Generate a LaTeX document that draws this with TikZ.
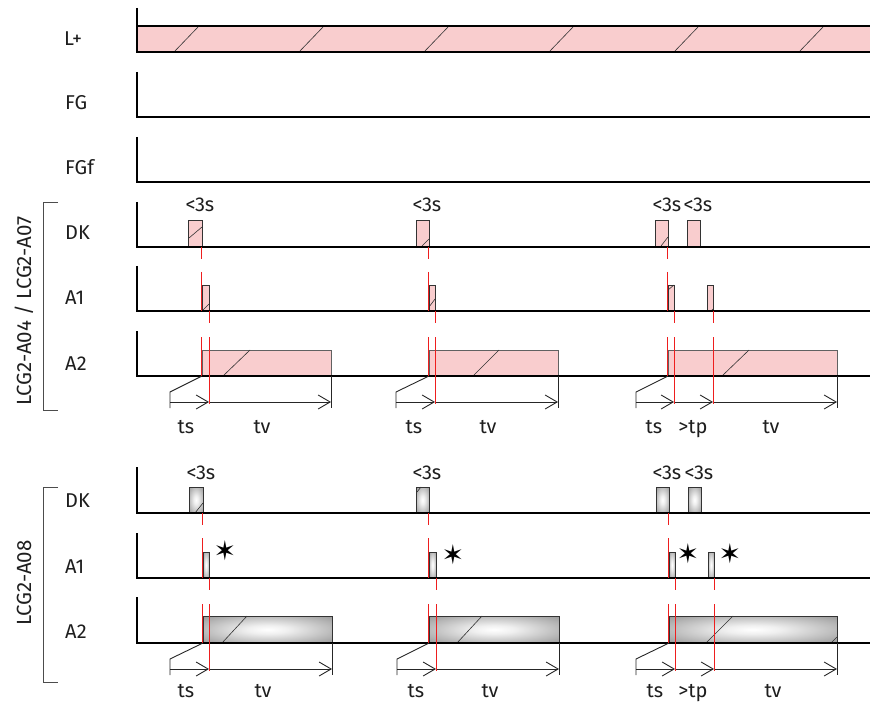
\documentclass[tikz,border=0pt]{standalone}
\usepackage{fontspec}
\setmainfont{Fira Sans}
\newfontfamily\symfont{DejaVu Sans}
\usetikzlibrary{arrows.meta}
\definecolor{pinkfill}{RGB}{249,205,206}
\definecolor{redline}{RGB}{238,30,30}
\definecolor{txt}{RGB}{30,30,30}
\pgfdeclareradialshading{glow}{\pgfpoint{0bp}{0bp}}{color(0bp)=(white); color(8bp)=(black!6); color(50bp)=(black!58); color(75bp)=(black!64)}
\tikzset{
  axis/.style={line width=1.1pt, black},
  lbl/.style={font=\fontsize{20}{22}\selectfont, text=txt, inner sep=0pt},
  rlbl/.style={font=\fontsize{20.5}{22}\selectfont, text=txt, inner sep=0pt, rotate=90},
  pulsedraw/.style={draw=black!80, line width=0.9pt},
  bardraw/.style={draw=black!62, line width=0.9pt},
  hatch/.style={black!80, line width=0.6pt},
  redd/.style={redline, line width=1pt},
  dim/.style={black!85, line width=0.9pt},
  dimarrow/.style={dim, -{Straight Barb[length=12pt,width=14pt]}},
  bracket/.style={black!70, line width=1pt},
  starlbl/.style={font=\symfont\fontsize{27}{28}\selectfont, text=black, inner sep=0pt}
}
% x1, x2, base, top
\newcommand\upulse[4]{%
  \fill[pinkfill] (#1,#3) rectangle (#2,#4);
  \draw[pulsedraw] (#1,#3) |- (#2,#4) -- (#2,#3);}
\newcommand\ubar[4]{%
  \fill[pinkfill] (#1,#3) rectangle (#2,#4);
  \draw[bardraw] (#1,#3) |- (#2,#4) -- (#2,#3);}
\newcommand\lpulse[4]{%
  \shade[shading=glow] (#1,#3) rectangle (#2,#4);
  \draw[pulsedraw] (#1,#3) |- (#2,#4) -- (#2,#3);}
\newcommand\rowaxis[2]{\draw[axis] (137,#1) -- (137,#2) -- (870,#2);}
\begin{document}
\begin{tikzpicture}[x=1pt,y=-1pt]
\useasboundingbox (0,0) rectangle (870,703);

% ---------- L+ ----------
\fill[pinkfill] (137,26) rectangle (870,52);
\foreach \x in {174,299,...,799} \draw[hatch] (\x,52) -- (\x+25,26);
\draw[axis] (137,8) -- (137,52) -- (870,52);
\draw[axis] (137,26) -- (870,26);
\node[lbl, anchor=base west] (lp) at (64,46) {L+};

% ---------- FG / FGf ----------
\rowaxis{72}{117}
\node[lbl, anchor=base west] (fg) at (65,110) {FG};
\rowaxis{137}{182}
\node[lbl, anchor=base west] (fgf) at (65,175) {FGf};

% ========== upper section ==========
\upulse{188}{202}{247}{220}
\upulse{416}{429}{247}{220}
\upulse{655}{668}{247}{220}
\upulse{687}{700}{247}{220}
\upulse{202}{209}{311}{285}
\upulse{429}{435}{311}{285}
\upulse{668}{674}{311}{285}
\upulse{707}{713}{311}{285}
\ubar{202}{331}{376}{350}
\ubar{429}{558}{376}{350}
\ubar{668}{837}{376}{350}
\draw[hatch] (189,238) -- (202,227);
\draw[hatch] (422,246) -- (429,239);
\draw[hatch] (661,246) -- (668,237);
\draw[hatch] (202,311) -- (209,304);
\draw[hatch] (429,307) -- (435,299);
\draw[hatch] (668,290) -- (674,285);
\draw[hatch] (711,311) -- (713,309);
\draw[hatch] (223,376) -- (250,350);
\draw[hatch] (473,376) -- (499,350);
\draw[hatch] (722,376) -- (749,350);
\rowaxis{202}{247}
\rowaxis{266}{311}
\rowaxis{331}{376}
% dimensions
\foreach \t/\e/\f in {170/202/331, 396/429/558, 636/668/837}{
  \draw[dim] (\t,408) -- (\t,392) -- (\e,376);
  \draw[dim] (\f,376) -- (\f,408);
}
\draw[dimarrow] (170,402) -- (209,402);
\draw[dimarrow] (209,402) -- (331,402);
\draw[dimarrow] (396,402) -- (435,402);
\draw[dimarrow] (435,402) -- (558,402);
\draw[dimarrow] (636,402) -- (674,402);
\draw[dimarrow] (674,402) -- (713,402);
\draw[dimarrow] (713,402) -- (837,402);
% red markers
\foreach \e in {202,429,668}
  \draw[redd] (\e-0.6,247) -- (\e-0.6,259) (\e-0.6,272) -- (\e-0.6,311) (\e-0.6,337) -- (\e-0.6,376);
\foreach \a in {209,435,674,713}
  \draw[redd] (\a,311) -- (\a,323) (\a,337) -- (\a,404);
% labels
\node[lbl, anchor=base] at (200,212) {<3s};
\node[lbl, anchor=base] at (427,212) {<3s};
\node[lbl, anchor=base] at (667,212) {<3s};
\node[lbl, anchor=base] at (698,212) {<3s};
\node[lbl, anchor=base] at (186,433) {ts};
\node[lbl, anchor=base] at (262,433) {tv};
\node[lbl, anchor=base] at (414,433) {ts};
\node[lbl, anchor=base] at (488,433) {tv};
\node[lbl, anchor=base] at (654,433) {ts};
\node[lbl, anchor=base] at (693,433) {>tp};
\node[lbl, anchor=base] at (771,433) {tv};
\node[lbl, anchor=base west] at (65,240) {DK};
\node[lbl, anchor=base west] at (65,305) {A1};
\node[lbl, anchor=base west] at (65,370) {A2};
\draw[bracket] (58,203) -- (43,203) -- (43,410) -- (58,410);
\node[rlbl] at (24,311) {LCG2-A04 / LCG2-A07};

% ========== lower section ==========
\lpulse{189}{203}{513}{487}
\lpulse{416}{429}{513}{487}
\lpulse{656}{669}{513}{487}
\lpulse{688}{701}{513}{487}
\lpulse{203}{209}{578}{552}
\lpulse{429}{436}{578}{552}
\lpulse{669}{675}{578}{552}
\lpulse{708}{714}{578}{552}
\lpulse{203}{332}{643}{616}
\lpulse{429}{559}{643}{616}
\lpulse{669}{837}{643}{616}
\draw[hatch] (195,513) -- (203,503);
\draw[hatch] (417,492) -- (421,487);
\draw[hatch] (222,643) -- (247,616);
\draw[hatch] (457,643) -- (482,616);
\draw[hatch] (706,643) -- (733,616);
\draw[hatch] (831,643) -- (837,637);
\rowaxis{467}{513}
\rowaxis{533}{578}
\rowaxis{597}{643}
\foreach \t/\e/\f in {170/203/332, 397/429/559, 636/669/837}{
  \draw[dim] (\t,675) -- (\t,659) -- (\e,643);
  \draw[dim] (\f,643) -- (\f,675);
}
\draw[dimarrow] (170,669) -- (209,669);
\draw[dimarrow] (209,669) -- (332,669);
\draw[dimarrow] (397,669) -- (436,669);
\draw[dimarrow] (436,669) -- (559,669);
\draw[dimarrow] (636,669) -- (675,669);
\draw[dimarrow] (675,669) -- (714,669);
\draw[dimarrow] (714,669) -- (837,669);
\foreach \e in {203,429,669}
  \draw[redd] (\e-0.6,513) -- (\e-0.6,525) (\e-0.6,538) -- (\e-0.6,578) (\e-0.6,604) -- (\e-0.6,643);
\foreach \a in {209,436,675,714}
  \draw[redd] (\a,578) -- (\a,590) (\a,604) -- (\a,671);
\node[starlbl] at (225,551) {✶};
\node[starlbl] at (453,555) {✶};
\node[starlbl] at (688,554) {✶};
\node[starlbl] at (730,554) {✶};
\node[lbl, anchor=base] at (201,479) {<3s};
\node[lbl, anchor=base] at (427,479) {<3s};
\node[lbl, anchor=base] at (667,479) {<3s};
\node[lbl, anchor=base] at (699,479) {<3s};
\node[lbl, anchor=base] at (186,697) {ts};
\node[lbl, anchor=base] at (263,697) {tv};
\node[lbl, anchor=base] at (416,697) {ts};
\node[lbl, anchor=base] at (490,697) {tv};
\node[lbl, anchor=base] at (655,697) {ts};
\node[lbl, anchor=base] at (693,697) {>tp};
\node[lbl, anchor=base] at (773,697) {tv};
\node[lbl, anchor=base west] at (65,507) {DK};
\node[lbl, anchor=base west] at (65,573) {A1};
\node[lbl, anchor=base west] at (65,638) {A2};
\draw[bracket] (58,487) -- (43,487) -- (43,682) -- (58,682);
\node[rlbl] at (24,583) {LCG2-A08};
\end{tikzpicture}
\end{document}
